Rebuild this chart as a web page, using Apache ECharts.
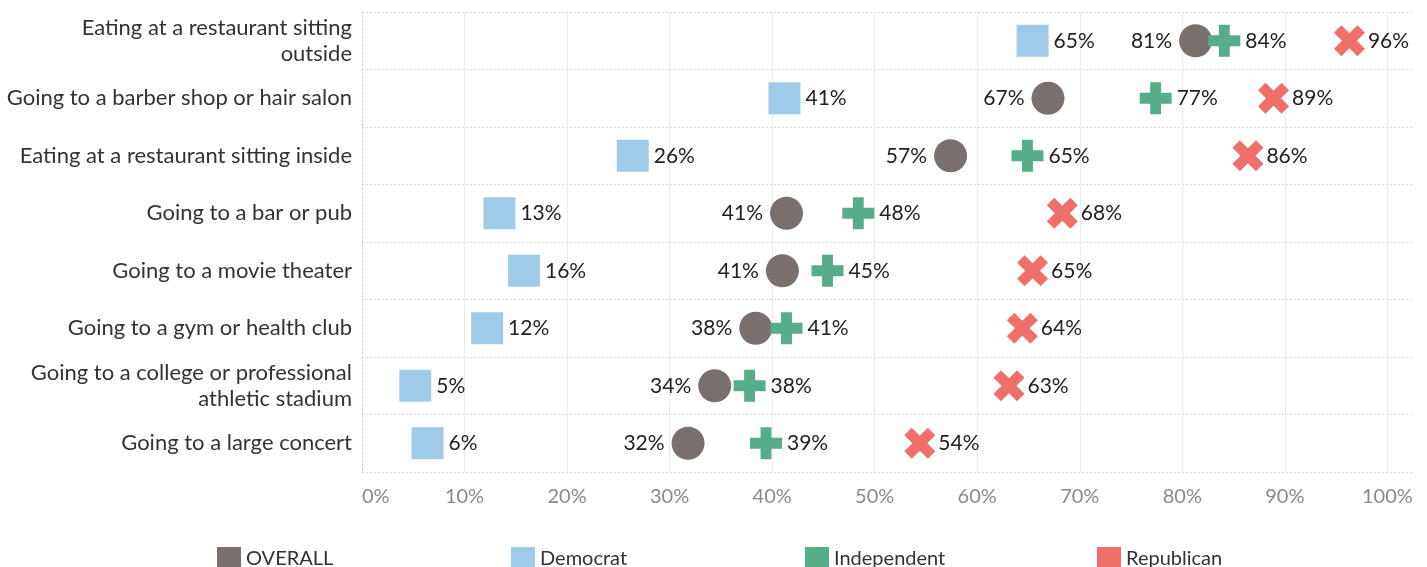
<!DOCTYPE html>
<html>
<head>
<meta charset="utf-8">
<script src="https://cdn.jsdelivr.net/npm/echarts@6/dist/echarts.min.js"></script>
<style>
  html, body { margin: 0; padding: 0; background: #ffffff; }
  #chart { width: 1427px; height: 567px; }
</style>
</head>
<body>
<div id="chart"></div>
<script>
// ---- data ----
const categories = [
  'Eating at a restaurant sitting\noutside',
  'Going to a barber shop or hair salon',
  'Eating at a restaurant sitting inside',
  'Going to a bar or pub',
  'Going to a movie theater',
  'Going to a gym or health club',
  'Going to a college or professional\nathletic stadium',
  'Going to a large concert'
];
const seriesNames = ['OVERALL', 'Democrat', 'Independent', 'Republican'];
const overall     = [81.3, 66.9, 57.4, 41.4, 41.0, 38.4, 34.4, 31.8];
const democrat    = [65.4, 41.2, 26.4, 13.4, 15.8, 12.2, 5.2, 6.4];
const independent = [84.1, 77.4, 64.9, 48.4, 45.4, 41.4, 37.8, 39.4];
const republican  = [96.3, 88.9, 86.4, 68.3, 65.4, 64.4, 63.1, 54.4];
const xTickValues = [0, 10, 20, 30, 40, 50, 60, 70, 80, 90, 100];

// ---- styling ----
const FONT = 'Lato';
const colors = ['#79706e', '#a0cbe8', '#55ad89', '#ef6f6a'];
const plusPath = 'path://M33,0 H67 V33 H100 V67 H67 V100 H33 V67 H0 V33 H33 Z';
const crossPath = 'path://M0,24 L24,0 L50,26 L76,0 L100,24 L74,50 L100,76 L76,100 L50,74 L24,100 L0,76 L26,50 Z';
const legendLefts = [212, 506, 800, 1092];

function toPoints(arr) {
  return arr.map((v, i) => [v, categories[i]]);
}
function labelFmt(p) { return Math.round(p.value[0]) + '%'; }

const labelText = { color: '#222', fontSize: 21, fontFamily: FONT };

const legends = seriesNames.map((name, i) => ({
  data: [{ name: name, icon: 'rect' }],
  icon: 'rect',
  left: legendLefts[i],
  top: 542,
  orient: 'horizontal',
  itemWidth: 24,
  itemHeight: 24,
  itemGap: 0,
  selectedMode: false,
  itemStyle: { color: colors[i] },
  textStyle: { color: '#333333', fontSize: 20, fontFamily: FONT }
}));

const chart = echarts.init(document.getElementById('chart'), null, { renderer: 'canvas' });
chart.setOption({
  animation: false,
  backgroundColor: '#ffffff',
  textStyle: { fontFamily: FONT },
  grid: { left: 362, right: 14, top: 12, bottom: 95, containLabel: false },
  xAxis: {
    type: 'value',
    min: 0,
    max: 102.5,
    interval: 10,
    axisLine: { show: false },
    axisTick: { show: false },
    axisLabel: {
      color: '#8a8a8a',
      fontSize: 20,
      fontFamily: FONT,
      margin: 15,
      showMaxLabel: false,
      alignMinLabel: 'left',
      formatter: v => (xTickValues.indexOf(v) >= 0 ? v + '%' : '')
    },
    splitLine: {
      show: true,
      showMinLine: false,
      showMaxLine: false,
      lineStyle: { color: '#ececec', width: 1, type: 'solid' }
    }
  },
  yAxis: {
    type: 'category',
    data: categories,
    inverse: true,
    boundaryGap: true,
    axisLine: { show: true, lineStyle: { color: '#cccccc', type: [2, 2], width: 1 } },
    axisTick: { show: false },
    axisLabel: {
      color: '#333333',
      fontSize: 22,
      fontFamily: FONT,
      margin: 10,
      align: 'right',
      lineHeight: 26
    },
    splitLine: {
      show: true,
      lineStyle: { color: '#d9d9d9', type: [2, 2], width: 1 }
    }
  },
  legend: legends,
  series: [
    {
      name: seriesNames[0], type: 'scatter', data: toPoints(overall),
      symbol: 'circle', symbolSize: 33, itemStyle: { color: colors[0], opacity: 1 },
      label: Object.assign({ show: true, position: 'left', distance: 7, formatter: labelFmt }, labelText),
      z: 2
    },
    {
      name: seriesNames[1], type: 'scatter', data: toPoints(democrat),
      symbol: 'rect', symbolSize: 32, itemStyle: { color: colors[1], opacity: 1 },
      label: Object.assign({ show: true, position: 'right', distance: 5, formatter: labelFmt }, labelText),
      z: 3
    },
    {
      name: seriesNames[2], type: 'scatter', data: toPoints(independent),
      symbol: plusPath, symbolSize: 32, itemStyle: { color: colors[2], opacity: 1 },
      label: Object.assign({ show: true, position: 'right', distance: 5, formatter: labelFmt }, labelText),
      z: 4
    },
    {
      name: seriesNames[3], type: 'scatter', data: toPoints(republican),
      symbol: crossPath, symbolSize: 31, itemStyle: { color: colors[3], opacity: 1 },
      label: Object.assign({ show: true, position: 'right', distance: 3, formatter: labelFmt }, labelText),
      z: 5
    }
  ]
});
</script>
</body>
</html>
